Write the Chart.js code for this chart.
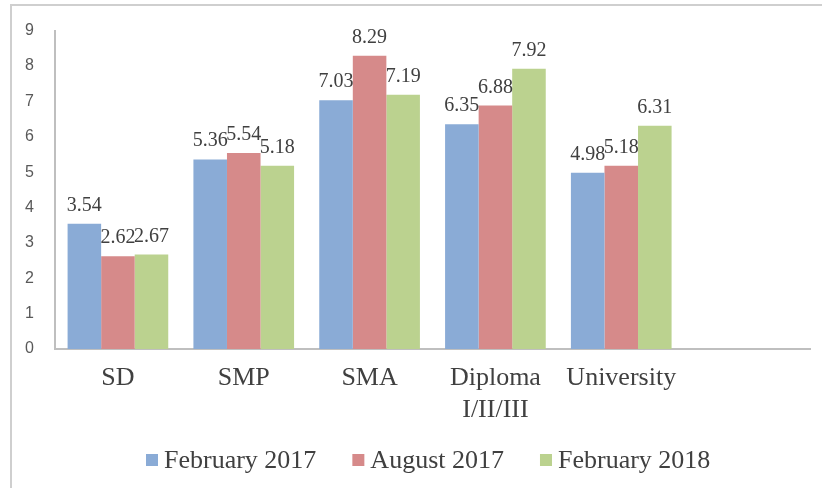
<!DOCTYPE html>
<html>
<head>
<meta charset="utf-8">
<script src="https://cdn.jsdelivr.net/npm/chart.js@4.4.0/dist/chart.umd.min.js"></script>
<style>
  html, body { margin: 0; padding: 0; background: #fff; }
  #wrap { position: relative; width: 822px; height: 488px; }
  #frame { position: absolute; left: 10px; top: 4px; right: 0; bottom: 0;
           border-top: 2px solid #cfcfcf; border-left: 2px solid #cfcfcf; }
  canvas { position: absolute; left: 0; top: 0; }
</style>
</head>
<body>
<div id="wrap">
  <div id="frame"></div>
  <canvas id="educationChart" width="822" height="488"></canvas>
</div>
<script>
var categories = ["SD", "SMP", "SMA", ["Diploma", "I/II/III"], "University", ""];
var feb2017 = [3.54, 5.36, 7.03, 6.35, 4.98, null];
var aug2017 = [2.62, 5.54, 8.29, 6.88, 5.18, null];
var feb2018 = [2.67, 5.18, 7.19, 7.92, 6.31, null];
var seriesNames = ["February 2017", "August 2017", "February 2018"];
var barColors = ["#8aabd6", "#d68a8a", "#bbd28f"];

var serif = "'Liberation Serif', 'Times New Roman', serif";

// value labels above each bar
var valueLabels = {
  id: "valueLabels",
  afterDatasetsDraw: function(chart) {
    var ctx = chart.ctx;
    ctx.save();
    ctx.font = "20px " + serif;
    ctx.fillStyle = "#404040";
    ctx.textAlign = "center";
    ctx.textBaseline = "alphabetic";
    chart.data.datasets.forEach(function(ds, i) {
      chart.getDatasetMeta(i).data.forEach(function(bar, j) {
        if (ds.data[j] == null) return;
        ctx.fillText(ds.data[j].toFixed(2), bar.x, bar.y - 13);
      });
    });
    ctx.restore();
  }
};

// legend row under the axis, Excel style (small square, tight gap)
var bottomLegend = {
  id: "bottomLegend",
  afterDraw: function(chart) {
    var ctx = chart.ctx;
    ctx.save();
    ctx.font = "26px " + serif;
    ctx.textBaseline = "alphabetic";
    var x = 146;
    chart.data.datasets.forEach(function(ds) {
      ctx.fillStyle = ds.backgroundColor;
      ctx.fillRect(x, 454, 12, 12);
      ctx.fillStyle = "#404040";
      ctx.fillText(ds.label, x + 18, 468);
      x += 18 + ctx.measureText(ds.label).width + 36;
    });
    ctx.restore();
  }
};

new Chart("educationChart", {
  type: "bar",
  data: {
    labels: categories,
    datasets: [
      { label: seriesNames[0], data: feb2017, backgroundColor: barColors[0] },
      { label: seriesNames[1], data: aug2017, backgroundColor: barColors[1] },
      { label: seriesNames[2], data: feb2018, backgroundColor: barColors[2] }
    ]
  },
  options: {
    responsive: false,
    animation: false,
    layout: { padding: { left: 0, right: 12, top: 28, bottom: 0 } },
    datasets: { bar: { categoryPercentage: 0.8, barPercentage: 1.0 } },
    scales: {
      x: {
        grid: { display: false, drawTicks: false },
        border: { display: true, color: "#bfbfbf", width: 2 },
        ticks: { font: { family: serif, size: 26 }, color: "#404040", padding: 14, maxRotation: 0, autoSkip: false },
        afterFit: function(scale) { scale.height = 139; }
      },
      y: {
        min: 0, max: 9,
        grid: { display: false, drawTicks: false },
        border: { display: true, color: "#bfbfbf", width: 2 },
        ticks: { stepSize: 1, font: { family: "'Liberation Sans', sans-serif", size: 16 }, color: "#595959", padding: 21 },
        afterFit: function(scale) { scale.width = 55; }
      }
    },
    plugins: {
      legend: { display: false },
      tooltip: { enabled: false }
    }
  },
  plugins: [valueLabels, bottomLegend]
});
</script>
</body>
</html>
